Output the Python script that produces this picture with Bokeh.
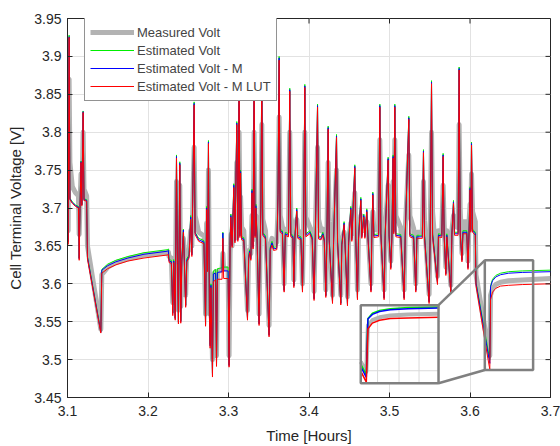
import numpy as np
from bokeh.plotting import figure
from bokeh.models import (Range1d, FixedTicker, CustomJSTickFormatter,
                          Legend, LegendItem)
from bokeh.embed import file_html
from bokeh.resources import INLINE

# ---------------- data ----------------
TIME_H = [
    3.1000, 3.1008, 3.1020, 3.1030, 3.1060, 3.1100, 3.1136, 3.1145, 3.1155, 3.1168,
    3.1178, 3.1194, 3.1205, 3.1238, 3.1248, 3.1414, 3.1426, 3.1500, 3.1600, 3.1750,
    3.1950, 3.2240,
    3.2252, 3.2262, 3.2290, 3.2308, 3.2320, 3.2338, 3.2354, 3.2366, 3.2378, 3.2395,
    3.2407, 3.2420, 3.2440, 3.2452, 3.2468, 3.2482, 3.2510, 3.2530, 3.2545, 3.2573,
    3.2585, 3.2630, 3.2695, 3.2715, 3.2728, 3.2740, 3.2751, 3.2763, 3.2772, 3.2782,
    3.2801, 3.2812, 3.2840, 3.2851, 3.2862, 3.2920, 3.2930, 3.2940, 3.2995, 3.3007,
    3.3020, 3.3029, 3.3045, 3.3066, 3.3080, 3.3103, 3.3116, 3.3132, 3.3142, 3.3150,
    3.3163, 3.3190, 3.3236, 3.3250, 3.3262, 3.3278, 3.3292, 3.3305, 3.3318, 3.3330,
    3.3340, 3.3355, 3.3380, 3.3395, 3.3402, 3.3414, 3.3426, 3.3460, 3.3504, 3.3518,
    3.3540, 3.3560, 3.3600, 3.3615, 3.3629, 3.3642, 3.3670, 3.3691, 3.3705, 3.3745,
    3.3761, 3.3774, 3.3800, 3.3812, 3.3825, 3.3848, 3.3860, 3.3900, 3.3919, 3.3932,
    3.3948, 3.3961, 3.4010, 3.4040, 3.4063, 3.4078, 3.4106, 3.4119, 3.4150, 3.4172,
    3.4190, 3.4209, 3.4222, 3.4238, 3.4251, 3.4292, 3.4305, 3.4342, 3.4355, 3.4395,
    3.4408, 3.4436, 3.4448, 3.4478, 3.4492, 3.4519, 3.4532, 3.4569, 3.4581, 3.4602,
    3.4615, 3.4644, 3.4656, 3.4681, 3.4694, 3.4718, 3.4732, 3.4770, 3.4780, 3.4793,
    3.4806, 3.4865, 3.4880, 3.4893, 3.4933, 3.4946, 3.4983, 3.4995, 3.5016, 3.5030,
    3.5045, 3.5053, 3.5066, 3.5079, 3.5140, 3.5182, 3.5195, 3.5240, 3.5253, 3.5300,
    3.5327, 3.5340, 3.5408, 3.5422, 3.5435, 3.5492, 3.5505, 3.5522, 3.5535, 3.5596,
    3.5608, 3.5650, 3.5666, 3.5679, 3.5700, 3.5712, 3.5762, 3.5775, 3.5795, 3.5808,
    3.5852, 3.5865, 3.5878, 3.5900, 3.5912, 3.5960, 3.5975, 3.5988, 3.6001, 3.6010,
    3.6019, 3.6032, 3.6066, 3.6074,
    3.6215, 3.6246, 3.6255, 3.6280, 3.6320, 3.6380, 3.6480, 3.6650, 3.7000,
]

V_MEASURED = [
    3.712, 3.670, 3.870, 3.760, 3.728, 3.720, 3.716, 3.665, 3.705, 3.745,
    3.712, 3.800, 3.725, 3.716, 3.650, 3.540, 3.612, 3.622, 3.628, 3.633,
    3.638, 3.641,
    3.642, 3.636, 3.634, 3.575, 3.630, 3.575, 3.735, 3.650, 3.565, 3.730,
    3.570, 3.640, 3.660, 3.640, 3.585, 3.640, 3.645, 3.670, 3.650, 3.780,
    3.690, 3.668, 3.663, 3.560, 3.680, 3.640, 3.750, 3.600, 3.560, 3.600,
    3.500, 3.612, 3.616, 3.505, 3.616, 3.618, 3.640, 3.620, 3.620, 3.505,
    3.640, 3.665, 3.650, 3.690, 3.660, 3.760, 3.675, 3.800, 3.682, 3.715,
    3.675, 3.670, 3.565, 3.640, 3.645, 3.640, 3.690, 3.658, 3.800, 3.682,
    3.690, 3.670, 3.560, 3.665, 3.690, 3.810, 3.685, 3.670, 3.545, 3.650,
    3.660, 3.652, 3.655, 3.700, 3.820, 3.690, 3.675, 3.600, 3.672, 3.670,
    3.800, 3.688, 3.675, 3.605, 3.668, 3.685, 3.670, 3.668, 3.600, 3.670,
    3.800, 3.688, 3.675, 3.668, 3.590, 3.668, 3.780, 3.685, 3.670, 3.672,
    3.666, 3.592, 3.664, 3.760, 3.682, 3.585, 3.660, 3.750, 3.678, 3.585,
    3.656, 3.668, 3.658, 3.583, 3.658, 3.680, 3.666, 3.720, 3.675, 3.592,
    3.666, 3.690, 3.670, 3.680, 3.670, 3.682, 3.670, 3.600, 3.667, 3.695,
    3.672, 3.670, 3.790, 3.692, 3.592, 3.670, 3.730, 3.678, 3.630, 3.670,
    3.735, 3.685, 3.790, 3.690, 3.674, 3.592, 3.670, 3.770, 3.690, 3.673,
    3.600, 3.668, 3.668, 3.735, 3.684, 3.586, 3.668, 3.800, 3.695, 3.610,
    3.670, 3.670, 3.730, 3.680, 3.622, 3.670, 3.598, 3.670, 3.690, 3.676,
    3.674, 3.810, 3.700, 3.640, 3.682, 3.682, 3.630, 3.682, 3.705, 3.688,
    3.745, 3.695, 3.682, 3.612,
    3.522, 3.505, 3.585, 3.594, 3.599, 3.602, 3.604, 3.605, 3.607,
]

V_EST = [
    3.705, 3.656, 3.928, 3.713, 3.708, 3.704, 3.702, 3.634, 3.700, 3.762,
    3.705, 3.828, 3.712, 3.711, 3.636, 3.537, 3.619, 3.626, 3.631, 3.636,
    3.641, 3.645,
    3.646, 3.632, 3.631, 3.562, 3.632, 3.555, 3.770, 3.630, 3.550, 3.761,
    3.551, 3.632, 3.672, 3.630, 3.572, 3.633, 3.638, 3.690, 3.640, 3.840,
    3.668, 3.660, 3.657, 3.547, 3.702, 3.620, 3.789, 3.560, 3.520, 3.600,
    3.482, 3.617, 3.619, 3.494, 3.620, 3.621, 3.668, 3.622, 3.622, 3.493,
    3.660, 3.692, 3.652, 3.732, 3.658, 3.814, 3.660, 3.880, 3.665, 3.750,
    3.662, 3.661, 3.555, 3.636, 3.645, 3.635, 3.725, 3.650, 3.880, 3.665,
    3.705, 3.662, 3.548, 3.662, 3.705, 3.890, 3.668, 3.663, 3.533, 3.648,
    3.656, 3.648, 3.649, 3.720, 3.900, 3.672, 3.670, 3.592, 3.668, 3.666,
    3.858, 3.666, 3.664, 3.598, 3.664, 3.700, 3.664, 3.662, 3.592, 3.664,
    3.863, 3.666, 3.670, 3.662, 3.581, 3.663, 3.837, 3.663, 3.662, 3.668,
    3.660, 3.585, 3.660, 3.808, 3.660, 3.577, 3.657, 3.797, 3.657, 3.575,
    3.654, 3.682, 3.654, 3.574, 3.656, 3.702, 3.660, 3.757, 3.662, 3.582,
    3.662, 3.714, 3.664, 3.692, 3.664, 3.699, 3.665, 3.592, 3.664, 3.721,
    3.665, 3.666, 3.837, 3.668, 3.582, 3.666, 3.767, 3.665, 3.622, 3.665,
    3.770, 3.670, 3.837, 3.666, 3.665, 3.582, 3.666, 3.821, 3.666, 3.664,
    3.592, 3.664, 3.664, 3.777, 3.665, 3.577, 3.665, 3.868, 3.667, 3.602,
    3.666, 3.665, 3.772, 3.666, 3.614, 3.666, 3.590, 3.667, 3.710, 3.668,
    3.668, 3.886, 3.670, 3.632, 3.670, 3.670, 3.622, 3.670, 3.728, 3.672,
    3.787, 3.672, 3.668, 3.602,
    3.518, 3.500, 3.597, 3.606, 3.611, 3.614, 3.616, 3.617, 3.618,
]

V_EST_M = [
    3.705, 3.655, 3.926, 3.712, 3.707, 3.703, 3.701, 3.633, 3.699, 3.761,
    3.704, 3.827, 3.711, 3.710, 3.635, 3.536, 3.618, 3.624, 3.629, 3.634,
    3.639, 3.643,
    3.644, 3.630, 3.629, 3.561, 3.630, 3.554, 3.768, 3.629, 3.549, 3.759,
    3.550, 3.630, 3.671, 3.628, 3.571, 3.631, 3.636, 3.688, 3.638, 3.838,
    3.667, 3.658, 3.655, 3.546, 3.700, 3.618, 3.787, 3.559, 3.518, 3.598,
    3.480, 3.613, 3.614, 3.493, 3.615, 3.616, 3.667, 3.617, 3.617, 3.492,
    3.658, 3.690, 3.650, 3.730, 3.656, 3.812, 3.658, 3.878, 3.663, 3.748,
    3.660, 3.659, 3.554, 3.634, 3.643, 3.633, 3.723, 3.648, 3.878, 3.663,
    3.703, 3.660, 3.547, 3.660, 3.703, 3.888, 3.666, 3.661, 3.532, 3.646,
    3.654, 3.646, 3.647, 3.718, 3.898, 3.670, 3.668, 3.591, 3.666, 3.664,
    3.856, 3.664, 3.662, 3.597, 3.662, 3.698, 3.662, 3.660, 3.591, 3.662,
    3.861, 3.664, 3.668, 3.660, 3.580, 3.661, 3.835, 3.661, 3.660, 3.666,
    3.658, 3.584, 3.658, 3.806, 3.658, 3.576, 3.655, 3.795, 3.655, 3.574,
    3.652, 3.680, 3.652, 3.573, 3.654, 3.700, 3.658, 3.755, 3.660, 3.581,
    3.660, 3.712, 3.662, 3.690, 3.662, 3.697, 3.663, 3.591, 3.662, 3.719,
    3.663, 3.664, 3.835, 3.666, 3.581, 3.664, 3.765, 3.663, 3.621, 3.663,
    3.768, 3.668, 3.835, 3.664, 3.663, 3.581, 3.664, 3.819, 3.664, 3.662,
    3.591, 3.662, 3.662, 3.775, 3.663, 3.576, 3.663, 3.866, 3.665, 3.601,
    3.664, 3.663, 3.770, 3.664, 3.613, 3.664, 3.589, 3.665, 3.708, 3.666,
    3.666, 3.884, 3.668, 3.631, 3.668, 3.668, 3.621, 3.668, 3.726, 3.670,
    3.785, 3.670, 3.666, 3.601,
    3.514, 3.495, 3.596, 3.604, 3.609, 3.612, 3.614, 3.615, 3.616,
]

V_EST_M_LUT = [
    3.705, 3.652, 3.925, 3.711, 3.706, 3.702, 3.700, 3.631, 3.698, 3.760,
    3.703, 3.826, 3.710, 3.709, 3.633, 3.535, 3.614, 3.620, 3.625, 3.630,
    3.634, 3.638,
    3.639, 3.628, 3.627, 3.558, 3.628, 3.552, 3.766, 3.627, 3.547, 3.757,
    3.548, 3.628, 3.668, 3.626, 3.569, 3.629, 3.634, 3.685, 3.636, 3.836,
    3.665, 3.656, 3.653, 3.544, 3.698, 3.616, 3.785, 3.556, 3.515, 3.595,
    3.477, 3.603, 3.605, 3.491, 3.606, 3.606, 3.660, 3.607, 3.607, 3.490,
    3.655, 3.688, 3.648, 3.727, 3.654, 3.810, 3.656, 3.875, 3.661, 3.746,
    3.658, 3.657, 3.552, 3.632, 3.641, 3.631, 3.720, 3.646, 3.875, 3.661,
    3.700, 3.658, 3.545, 3.658, 3.700, 3.885, 3.664, 3.659, 3.530, 3.644,
    3.651, 3.644, 3.645, 3.715, 3.895, 3.668, 3.666, 3.589, 3.664, 3.662,
    3.854, 3.662, 3.660, 3.595, 3.660, 3.696, 3.660, 3.658, 3.589, 3.660,
    3.859, 3.662, 3.666, 3.658, 3.578, 3.659, 3.833, 3.659, 3.658, 3.664,
    3.656, 3.582, 3.656, 3.804, 3.656, 3.574, 3.653, 3.793, 3.653, 3.572,
    3.650, 3.678, 3.650, 3.571, 3.652, 3.698, 3.656, 3.753, 3.658, 3.579,
    3.658, 3.710, 3.660, 3.688, 3.660, 3.695, 3.661, 3.589, 3.660, 3.717,
    3.661, 3.662, 3.833, 3.664, 3.579, 3.662, 3.763, 3.661, 3.619, 3.661,
    3.766, 3.666, 3.833, 3.662, 3.661, 3.579, 3.662, 3.817, 3.662, 3.660,
    3.589, 3.660, 3.660, 3.773, 3.661, 3.574, 3.661, 3.864, 3.663, 3.599,
    3.662, 3.661, 3.768, 3.662, 3.611, 3.662, 3.587, 3.663, 3.706, 3.664,
    3.664, 3.882, 3.666, 3.629, 3.666, 3.666, 3.619, 3.666, 3.724, 3.668,
    3.783, 3.668, 3.664, 3.598,
    3.506, 3.487, 3.579, 3.589, 3.594, 3.597, 3.598, 3.599, 3.600,
]

SERIES_NAMES = ["Measured Volt", "Estimated Volt", "Estimated Volt - M", "Estimated Volt - M LUT"]
X_TICKS = [3.1, 3.2, 3.3, 3.4, 3.5, 3.6, 3.7]
Y_TICKS = [3.45, 3.5, 3.55, 3.6, 3.65, 3.7, 3.75, 3.8, 3.85, 3.9, 3.95]
X_RANGE = (3.1, 3.7)
Y_RANGE = (3.45, 3.95)
TICK_LEN_T = 0.0062   # 5 px along time
TICK_LEN_V = 0.0066   # 5 px along voltage

# zoom window (data) and where the magnified copy sits
ZOOM_T = (3.6215, 3.665)
ZOOM_V = (3.485, 3.62)
ZOOM_GRID_T = [3.6309, 3.6429, 3.6541]
ZOOM_GRID_V = [3.5066, 3.5404, 3.5728]
MARK_BOX = (3.6184, 3.6784, 3.4863, 3.631)     # t0, t1, v0, v1
INSET_BOX = (3.4643, 3.5609, 3.4688, 3.5718)   # t0, t1, v0, v1

FONT = "Liberation Sans"
INK = "#262626"
COLORS = ["#b3b3b3", "#00ee00", "#0000ff", "#ff0000"]
WIDTHS = [5, 1, 1, 1]
BOX_COLOR = "#808080"

assert len(TIME_H) == len(V_MEASURED) == len(V_EST) == len(V_EST_M) == len(V_EST_M_LUT)

fmt = CustomJSTickFormatter(code="return String(Math.round(tick*100)/100);")

p = figure(width=560, height=446, output_backend="svg", toolbar_location=None,
           x_range=Range1d(*X_RANGE), y_range=Range1d(*Y_RANGE),
           min_border_left=67, min_border_right=10, min_border_top=18,
           min_border_bottom=48)
p.outline_line_color = INK
p.outline_line_width = 1
p.background_fill_color = "white"
p.border_fill_color = "white"

for ax, ticks in ((p.xaxis[0], X_TICKS), (p.yaxis[0], Y_TICKS)):
    ax.ticker = FixedTicker(ticks=ticks)
    ax.formatter = fmt
    ax.major_tick_in = 5
    ax.major_tick_out = 0
    ax.minor_tick_in = 0
    ax.minor_tick_out = 0
    ax.axis_line_color = INK
    ax.major_tick_line_color = INK
    ax.major_label_text_font = FONT
    ax.major_label_text_font_size = "14px"
    ax.major_label_text_color = INK
    ax.axis_label_text_font = FONT
    ax.axis_label_text_font_size = "15px"
    ax.axis_label_text_font_style = "normal"
    ax.axis_label_text_color = INK
p.xaxis[0].axis_label = "Time [Hours]"
p.yaxis[0].axis_label = "Cell Terminal Voltage [V]"
p.xaxis[0].major_label_standoff = 8
p.yaxis[0].major_label_standoff = 6
p.xaxis[0].axis_label_standoff = 8
p.yaxis[0].axis_label_standoff = 7

p.xgrid.ticker = FixedTicker(ticks=X_TICKS)
p.ygrid.ticker = FixedTicker(ticks=Y_TICKS)
p.xgrid.grid_line_color = "#e2e2e2"
p.ygrid.grid_line_color = "#e2e2e2"

series = [V_MEASURED, V_EST, V_EST_M, V_EST_M_LUT]
renderers = []
for vals, col, w in zip(series, COLORS, WIDTHS):
    r = p.line(TIME_H, vals, line_color=col, line_width=w, line_join="round")
    renderers.append(r)

# inward ticks on the top and right edges of the box
p.segment(x0=X_TICKS, y0=Y_RANGE[1], x1=X_TICKS, y1=Y_RANGE[1] - TICK_LEN_V,
          line_color=INK, line_width=1)
p.segment(x0=X_RANGE[1], y0=Y_TICKS, x1=X_RANGE[1] - TICK_LEN_T, y1=Y_TICKS,
          line_color=INK, line_width=1)

# marker box around the zoomed region
p.quad(left=[MARK_BOX[0]], right=[MARK_BOX[1]], bottom=[MARK_BOX[2]], top=[MARK_BOX[3]],
       fill_color=None, line_color=BOX_COLOR, line_width=2.5)
# connector lines
p.segment(x0=[MARK_BOX[0], MARK_BOX[0]], y0=[MARK_BOX[3], MARK_BOX[2]],
          x1=[INSET_BOX[1], INSET_BOX[1]], y1=[INSET_BOX[3], INSET_BOX[2]],
          line_color=BOX_COLOR, line_width=2.5)
# inset background
p.quad(left=[INSET_BOX[0]], right=[INSET_BOX[1]], bottom=[INSET_BOX[2]], top=[INSET_BOX[3]],
       fill_color="white", line_color=None)

ins = p.subplot(x_source=Range1d(*ZOOM_T), y_source=Range1d(*ZOOM_V),
                x_target=Range1d(INSET_BOX[0], INSET_BOX[1]),
                y_target=Range1d(INSET_BOX[2], INSET_BOX[3]))
ins.segment(x0=ZOOM_GRID_T, y0=ZOOM_V[0], x1=ZOOM_GRID_T, y1=ZOOM_V[1],
            line_color="#d9d9d9", line_width=1)
ins.segment(x0=ZOOM_T[0], y0=ZOOM_GRID_V, x1=ZOOM_T[1], y1=ZOOM_GRID_V,
            line_color="#d9d9d9", line_width=1)
t_arr = np.array(TIME_H)
mask = (t_arr >= ZOOM_T[0]) & (t_arr <= ZOOM_T[1])
for vals, col, w in zip(series, COLORS, [4, 1.5, 1.5, 1.5]):
    ins.line(t_arr[mask], np.array(vals)[mask], line_color=col, line_width=w, line_join="round")

p.quad(left=[INSET_BOX[0]], right=[INSET_BOX[1]], bottom=[INSET_BOX[2]], top=[INSET_BOX[3]],
       fill_color=None, line_color=BOX_COLOR, line_width=2.5)

legend = Legend(items=[LegendItem(label=n, renderers=[r]) for n, r in zip(SERIES_NAMES, renderers)],
                location=(17, 296), margin=0, padding=5, spacing=0,
                glyph_width=44, glyph_height=18, label_height=18, label_standoff=3,
                label_text_font=FONT, label_text_font_size="13px",
                border_line_color=INK, border_line_width=1,
                background_fill_color="white", background_fill_alpha=1.0)
p.add_layout(legend)

open("out.html", "w").write(file_html(p, INLINE))
